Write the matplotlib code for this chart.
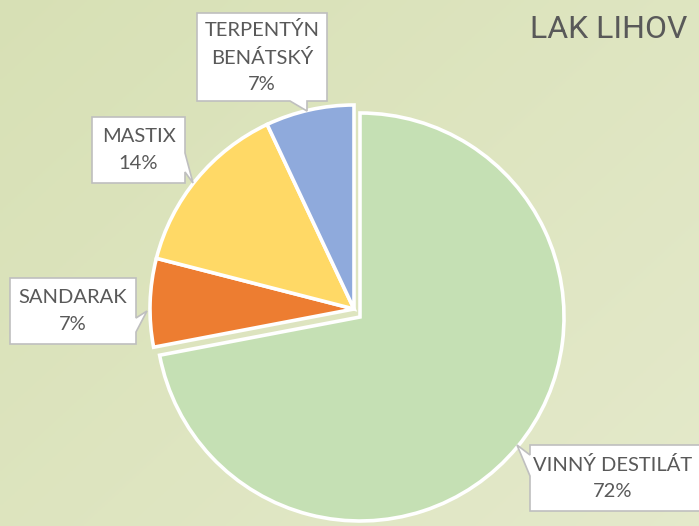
import numpy as np
import matplotlib.pyplot as plt
from matplotlib.patches import Polygon

# datos del gráfico
categorias = ['VINNÝ DESTILÁT', 'SANDARAK', 'MASTIX', 'TERPENTÝN\nBENÁTSKÝ']
valores = [72, 7, 14, 7]
colores = ['#c5e0b4', '#ed7d31', '#ffd966', '#8faadc']
titulo = 'LAK LIHOV'

W, H = 699, 526
fig = plt.figure(figsize=(W / 100, H / 100), dpi=100)
ax = fig.add_axes([0, 0, 1, 1])

# fondo degradado verdoso
yy, xx = np.mgrid[0:1:200j, 0:1:200j]
t = 0.55 * xx + 0.45 * (1 - yy)
c0 = np.array([0.845, 0.88, 0.71])
c1 = np.array([0.895, 0.915, 0.795])
fondo = c0[None, None, :] * (1 - t[..., None]) + c1[None, None, :] * t[..., None]
ax.imshow(fondo, extent=[0, W, 0, H], origin='lower', zorder=0, aspect='auto')

centro = (360, H - 317)
radio = 204
wedges, _ = ax.pie(valores, colors=colores, startangle=90, counterclock=False,
                   center=centro, radius=radio, frame=True,
                   wedgeprops=dict(edgecolor='white', linewidth=2.6))
ax.set_xlim(0, W)
ax.set_ylim(0, H)
ax.set_aspect('equal')
ax.axis('off')

# las porciones pequeñas van desplazadas juntas hacia arriba a la izquierda
for w in wedges[1:]:
    w.set_center((centro[0] - 6, centro[1] + 8))


# cuadro de etiqueta con su pico (coordenadas en píxeles, origen arriba a la izquierda)
def globo(x0, y0, x1, y1, lado, a, b, punta):
    pts = [(x0, y0), (x1, y0)]
    if lado == 'right':
        pts += [(x1, a), punta, (x1, b)]
    pts.append((x1, y1))
    if lado == 'bottom':
        pts += [(b, y1), punta, (a, y1)]
    pts.append((x0, y1))
    if lado == 'left':
        pts += [(x0, b), punta, (x0, a)]
    return [(px, H - py) for px, py in pts]


cuadros = [
    (530, 445, 706, 511, 'left', 455, 476, (517, 445)),
    (10, 278, 136, 344, 'right', 318, 332, (147, 311)),
    (92, 117, 185, 183, 'right', 153, 172, (193, 183)),
    (197, 13, 327, 101, 'bottom', 290, 307, (307, 111)),
]

total = sum(valores)
for cat, v, c in zip(categorias, valores, cuadros):
    ax.add_patch(Polygon(globo(*c), closed=True, fc='white', ec='#bfbfbf',
                         lw=1.2, zorder=4, joinstyle='miter'))
    cx = (c[0] + min(c[2], W - 4)) / 2
    cy = H - (c[1] + c[3]) / 2
    ax.text(cx, cy, f'{cat}\n{round(100 * v / total)}%', ha='center', va='center',
            fontsize=14.5, color='#595959', family='Lato', linespacing=1.65,
            zorder=5)

ax.text(530, H - 29, titulo, ha='left', va='center', fontsize=23,
        color='#595959', family='Roboto')

fig.savefig('out.png', dpi=100)
